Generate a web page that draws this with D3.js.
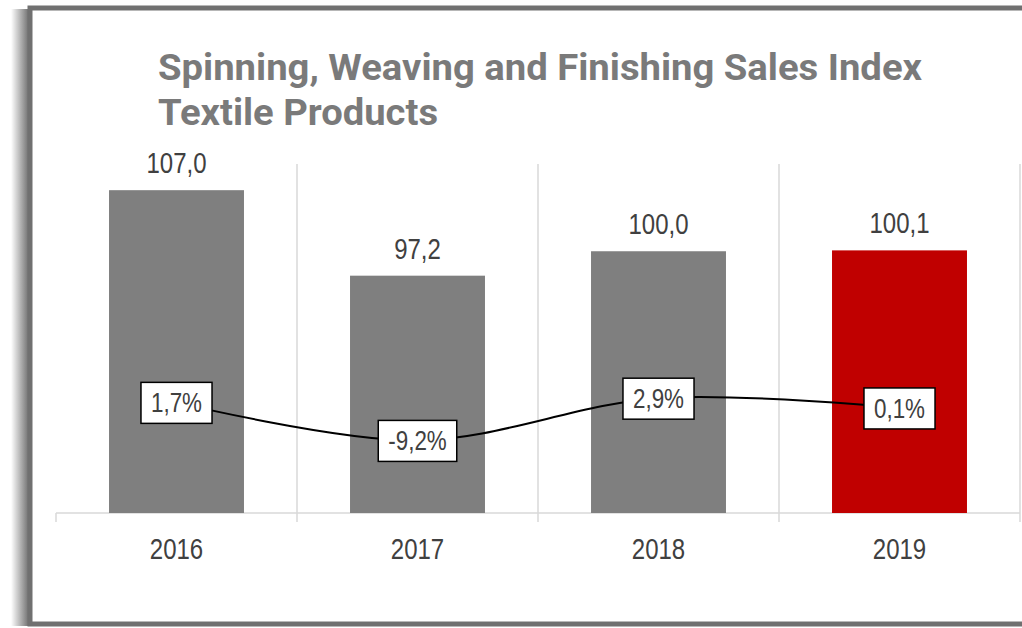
<!DOCTYPE html>
<html>
<head>
<meta charset="utf-8">
<script src="https://cdn.jsdelivr.net/npm/d3@7"></script>
<style>
  html, body { margin: 0; padding: 0; background: #fff; }
  svg { display: block; }
</style>
</head>
<body>
<svg id="chart"></svg>
<script>
// data
const years = ["2016", "2017", "2018", "2019"];
const salesIndex = [107.0, 97.2, 100.0, 100.1];
const changePct = [1.7, -9.2, 2.9, 0.1];
const titleLines = ["Spinning, Weaving and Finishing Sales Index", "Textile Products"];

const width = 1022, height = 628;
const svg = d3.select("#chart").attr("width", width).attr("height", height);

const fmt = v => v.toFixed(1).replace(".", ",");
// no narrow font installed, so squeeze Liberation Sans horizontally
const narrow = "'Liberation Sans', Arial, sans-serif";
const squeeze = 0.8;

// frame + left shadow
const defs = svg.append("defs");
const grad = defs.append("linearGradient").attr("id", "shadow")
  .attr("x1", "0%").attr("x2", "100%");
grad.append("stop").attr("offset", "0%").attr("stop-color", "#555").attr("stop-opacity", 0);
grad.append("stop").attr("offset", "100%").attr("stop-color", "#555").attr("stop-opacity", 0.85);

svg.append("rect").attr("x", 11).attr("y", 9).attr("width", 18).attr("height", 617)
  .attr("fill", "url(#shadow)");
svg.append("rect")
  .attr("x", 30).attr("y", 8).attr("width", 1100).attr("height", 616)
  .attr("fill", "#fff").attr("stroke", "#707070").attr("stroke-width", 5);

// scales
const x = d3.scaleBand().domain(years).range([56, 1020]).paddingInner(0.44).paddingOuter(0.22);
const y = d3.scaleLinear().domain([70, 110]).range([513, 164]);
const y2 = d3.scaleLinear().domain([-30, 70]).range([513, 164]);
const cx = d => x(d) + x.bandwidth() / 2;

// gridlines between categories
const step = x.step();
const x0 = x.range()[0];
const bounds = d3.range(years.length + 1).map(i => x0 + i * step);
svg.append("g").selectAll("line").data(bounds).join("line")
  .attr("x1", d => d).attr("x2", d => d)
  .attr("y1", (d, i) => i === 0 ? y.range()[0] : y.range()[1])
  .attr("y2", y.range()[0] + 9)
  .attr("stroke", "#d9d9d9").attr("stroke-width", 1.5);

// axis baseline
svg.append("line")
  .attr("x1", x0).attr("x2", bounds[bounds.length - 1])
  .attr("y1", y.range()[0]).attr("y2", y.range()[0])
  .attr("stroke", "#d9d9d9").attr("stroke-width", 1.5);

// bars
svg.append("g").selectAll("rect").data(years).join("rect")
  .attr("x", d => x(d))
  .attr("y", (d, i) => y(salesIndex[i]))
  .attr("width", x.bandwidth())
  .attr("height", (d, i) => y(70) - y(salesIndex[i]))
  .attr("fill", (d, i) => i === years.length - 1 ? "#c00000" : "#7f7f7f");

// bar value labels
svg.append("g").selectAll("text").data(years).join("text")
  .attr("transform", (d, i) => `translate(${cx(d)},${y(salesIndex[i]) - 17}) scale(${squeeze},1)`)
  .attr("text-anchor", "middle")
  .attr("font-family", narrow).attr("font-size", 30)
  .attr("fill", "#404040")
  .text((d, i) => fmt(salesIndex[i]));

// category labels
svg.append("g").selectAll("text").data(years).join("text")
  .attr("transform", d => `translate(${cx(d)},559) scale(${squeeze},1)`)
  .attr("text-anchor", "middle")
  .attr("font-family", narrow).attr("font-size", 30)
  .attr("fill", "#404040")
  .text(d => d);

// change line
const line = d3.line()
  .x((d, i) => cx(years[i]))
  .y(d => y2(d))
  .curve(d3.curveCardinal.tension(0));
svg.append("path").datum(changePct)
  .attr("d", line)
  .attr("fill", "none").attr("stroke", "#000").attr("stroke-width", 2);

// change labels in boxes
const lab = svg.append("g").selectAll("g").data(changePct).join("g")
  .attr("transform", (d, i) => `translate(${cx(years[i])},${y2(d)})`);
const box = lab.append("rect").attr("fill", "#fff").attr("stroke", "#000").attr("stroke-width", 1.5);
const txt = lab.append("text")
  .attr("transform", `scale(${squeeze},1)`)
  .attr("text-anchor", "middle").attr("dy", "0.35em")
  .attr("font-family", narrow).attr("font-size", 28)
  .attr("fill", "#404040")
  .text(d => fmt(d) + "%");
txt.each(function (d, i) {
  const w = this.getComputedTextLength() * squeeze + 20;
  d3.select(box.nodes()[i])
    .attr("x", -w / 2).attr("y", -20).attr("width", w).attr("height", 41);
});

// title
const titleX = [764, 280];
svg.append("g").selectAll("text").data(titleLines).join("text")
  .attr("x", 158)
  .attr("y", (d, i) => 80 + i * 45)
  .attr("font-family", "Roboto, 'DejaVu Sans', sans-serif")
  .attr("font-weight", 700).attr("font-size", 36)
  .attr("fill", "#7a7a7a")
  .attr("textLength", (d, i) => titleX[i])
  .attr("lengthAdjust", "spacingAndGlyphs")
  .text(d => d);
</script>
</body>
</html>
